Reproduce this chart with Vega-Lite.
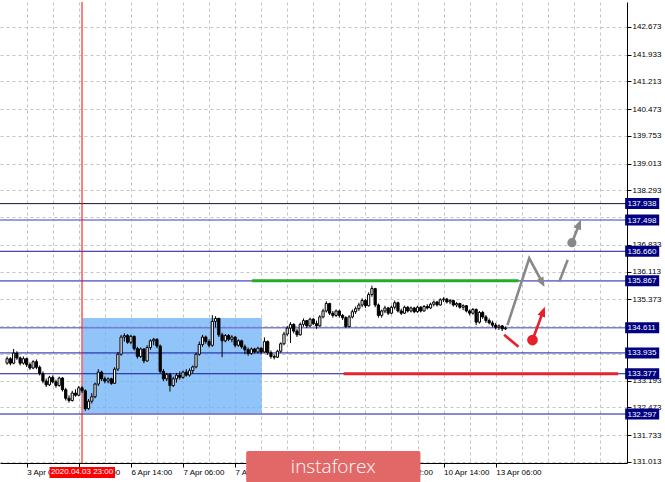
{
"$schema": "https://vega.github.io/schema/vega-lite/v6.json",
"width": 627, "height": 461,
"autosize": {"type": "none"},
"padding": {"left": 0, "top": 2, "right": 38, "bottom": 19},
"background": "white",
"config": {"view": {"stroke": null}, "font": "Liberation Sans", "axis": {"labelOverlap": false, "labelSeparation": 0}},
"datasets": {
"zones": [{"i": 33.2, "i2": 88.2, "top": 134.87, "bottom": 132.32}],
"levels": [
{"p": 137.938, "kind": "frame"}, {"p": 137.498, "kind": "key"}, {"p": 136.660, "kind": "level"},
{"p": 135.867, "kind": "key"}, {"p": 134.611, "kind": "key"}, {"p": 133.935, "kind": "level"},
{"p": 133.377, "kind": "level"}, {"p": 132.297, "kind": "level"}],
"cursor": [{"i": 33, "label": "2020.04.03 23:00"}],
"candles": [
{"i":10,"o":133.66,"c":133.78,"h":133.84,"l":133.62},
{"i":11,"o":133.78,"c":133.66,"h":133.82,"l":133.60},
{"i":12,"o":133.66,"c":133.93,"h":134.04,"l":133.63},
{"i":13,"o":133.93,"c":133.80,"h":133.98,"l":133.75},
{"i":14,"o":133.80,"c":133.66,"h":133.84,"l":133.60},
{"i":15,"o":133.66,"c":133.78,"h":133.84,"l":133.62},
{"i":16,"o":133.78,"c":133.62,"h":133.81,"l":133.56},
{"i":17,"o":133.62,"c":133.53,"h":133.68,"l":133.48},
{"i":18,"o":133.53,"c":133.70,"h":133.74,"l":133.50},
{"i":19,"o":133.70,"c":133.55,"h":133.76,"l":133.50},
{"i":20,"o":133.55,"c":133.38,"h":133.60,"l":133.33},
{"i":21,"o":133.38,"c":133.18,"h":133.44,"l":133.12},
{"i":22,"o":133.18,"c":133.08,"h":133.25,"l":133.02},
{"i":23,"o":133.08,"c":133.28,"h":133.32,"l":133.05},
{"i":24,"o":133.28,"c":133.16,"h":133.33,"l":133.12},
{"i":25,"o":133.16,"c":133.06,"h":133.22,"l":133.00},
{"i":26,"o":133.06,"c":133.26,"h":133.30,"l":133.03},
{"i":27,"o":133.26,"c":132.95,"h":133.29,"l":132.90},
{"i":28,"o":132.95,"c":132.72,"h":133.00,"l":132.66},
{"i":29,"o":132.72,"c":132.66,"h":132.80,"l":132.60},
{"i":30,"o":132.66,"c":132.86,"h":132.92,"l":132.63},
{"i":31,"o":132.86,"c":132.80,"h":132.96,"l":132.76},
{"i":32,"o":132.80,"c":133.00,"h":133.05,"l":132.77},
{"i":33,"o":133.00,"c":132.92,"h":133.04,"l":132.86},
{"i":34,"o":132.92,"c":132.44,"h":132.96,"l":132.38},
{"i":35,"o":132.44,"c":132.64,"h":132.70,"l":132.41},
{"i":36,"o":132.64,"c":132.76,"h":132.86,"l":132.58},
{"i":37,"o":132.76,"c":133.10,"h":133.14,"l":132.72},
{"i":38,"o":133.10,"c":133.42,"h":133.50,"l":133.05},
{"i":39,"o":133.42,"c":133.24,"h":133.46,"l":133.18},
{"i":40,"o":133.24,"c":133.18,"h":133.30,"l":133.12},
{"i":41,"o":133.18,"c":133.24,"h":133.28,"l":133.12},
{"i":42,"o":133.24,"c":133.12,"h":133.27,"l":133.08},
{"i":43,"o":133.12,"c":133.50,"h":133.55,"l":133.10},
{"i":44,"o":133.50,"c":133.90,"h":133.96,"l":133.45},
{"i":45,"o":133.90,"c":134.36,"h":134.42,"l":133.86},
{"i":46,"o":134.36,"c":134.40,"h":134.46,"l":134.24},
{"i":47,"o":134.40,"c":134.22,"h":134.44,"l":134.18},
{"i":48,"o":134.22,"c":134.38,"h":134.42,"l":134.17},
{"i":49,"o":134.38,"c":134.05,"h":134.40,"l":134.00},
{"i":50,"o":134.05,"c":133.84,"h":134.10,"l":133.78},
{"i":51,"o":133.84,"c":134.04,"h":134.08,"l":133.80},
{"i":52,"o":134.04,"c":133.72,"h":134.06,"l":133.66},
{"i":53,"o":133.72,"c":134.08,"h":134.14,"l":133.70},
{"i":54,"o":134.08,"c":134.26,"h":134.30,"l":134.02},
{"i":55,"o":134.26,"c":134.30,"h":134.34,"l":134.14},
{"i":56,"o":134.30,"c":134.12,"h":134.33,"l":134.06},
{"i":57,"o":134.12,"c":133.44,"h":134.16,"l":133.38},
{"i":58,"o":133.44,"c":133.24,"h":133.50,"l":133.18},
{"i":59,"o":133.24,"c":133.36,"h":133.40,"l":133.18},
{"i":60,"o":133.36,"c":133.06,"h":133.40,"l":132.90},
{"i":61,"o":133.06,"c":133.24,"h":133.30,"l":133.02},
{"i":62,"o":133.24,"c":133.34,"h":133.40,"l":133.14},
{"i":63,"o":133.34,"c":133.28,"h":133.44,"l":133.22},
{"i":64,"o":133.28,"c":133.42,"h":133.46,"l":133.24},
{"i":65,"o":133.42,"c":133.34,"h":133.50,"l":133.30},
{"i":66,"o":133.34,"c":133.46,"h":133.52,"l":133.30},
{"i":67,"o":133.46,"c":133.56,"h":133.60,"l":133.38},
{"i":68,"o":133.56,"c":133.90,"h":133.94,"l":133.52},
{"i":69,"o":133.90,"c":134.16,"h":134.24,"l":133.86},
{"i":70,"o":134.16,"c":134.36,"h":134.42,"l":134.10},
{"i":71,"o":134.36,"c":134.24,"h":134.40,"l":134.18},
{"i":72,"o":134.24,"c":134.14,"h":134.30,"l":134.08},
{"i":73,"o":134.14,"c":134.78,"h":134.95,"l":134.10},
{"i":74,"o":134.78,"c":134.86,"h":134.92,"l":134.62},
{"i":75,"o":134.86,"c":134.42,"h":134.88,"l":134.36},
{"i":76,"o":134.42,"c":134.26,"h":134.48,"l":133.82},
{"i":77,"o":134.26,"c":134.40,"h":134.44,"l":134.22},
{"i":78,"o":134.40,"c":134.30,"h":134.44,"l":134.25},
{"i":79,"o":134.30,"c":134.36,"h":134.41,"l":134.22},
{"i":80,"o":134.36,"c":134.14,"h":134.38,"l":134.08},
{"i":81,"o":134.14,"c":134.26,"h":134.30,"l":134.10},
{"i":82,"o":134.26,"c":134.10,"h":134.29,"l":134.05},
{"i":83,"o":134.10,"c":134.02,"h":134.16,"l":133.90},
{"i":84,"o":134.02,"c":133.92,"h":134.08,"l":133.86},
{"i":85,"o":133.92,"c":134.04,"h":134.08,"l":133.88},
{"i":86,"o":134.04,"c":133.96,"h":134.07,"l":133.92},
{"i":87,"o":133.96,"c":134.06,"h":134.10,"l":133.92},
{"i":88,"o":134.06,"c":133.96,"h":134.09,"l":133.90},
{"i":89,"o":133.96,"c":134.24,"h":134.35,"l":133.94},
{"i":90,"o":134.24,"c":133.94,"h":134.27,"l":133.88},
{"i":91,"o":133.94,"c":133.84,"h":134.00,"l":133.78},
{"i":92,"o":133.84,"c":133.82,"h":133.90,"l":133.76},
{"i":93,"o":133.82,"c":133.98,"h":134.02,"l":133.80},
{"i":94,"o":133.98,"c":134.18,"h":134.22,"l":133.94},
{"i":95,"o":134.18,"c":134.44,"h":134.50,"l":134.14},
{"i":96,"o":134.44,"c":134.60,"h":134.66,"l":134.38},
{"i":97,"o":134.60,"c":134.70,"h":134.76,"l":134.20},
{"i":98,"o":134.70,"c":134.52,"h":134.73,"l":134.46},
{"i":99,"o":134.52,"c":134.42,"h":134.58,"l":134.36},
{"i":100,"o":134.42,"c":134.70,"h":134.75,"l":134.40},
{"i":101,"o":134.70,"c":134.80,"h":134.86,"l":134.64},
{"i":102,"o":134.80,"c":134.66,"h":134.82,"l":134.60},
{"i":103,"o":134.66,"c":134.84,"h":134.88,"l":134.62},
{"i":104,"o":134.84,"c":134.72,"h":134.87,"l":134.68},
{"i":105,"o":134.72,"c":134.66,"h":134.80,"l":134.58},
{"i":106,"o":134.66,"c":134.90,"h":134.95,"l":134.64},
{"i":107,"o":134.90,"c":135.06,"h":135.12,"l":134.86},
{"i":108,"o":135.06,"c":135.26,"h":135.32,"l":135.02},
{"i":109,"o":135.26,"c":135.00,"h":135.28,"l":134.95},
{"i":110,"o":135.00,"c":134.94,"h":135.06,"l":134.88},
{"i":111,"o":134.94,"c":135.06,"h":135.10,"l":134.90},
{"i":112,"o":135.06,"c":134.94,"h":135.09,"l":134.88},
{"i":113,"o":134.94,"c":134.88,"h":134.98,"l":134.82},
{"i":114,"o":134.88,"c":134.64,"h":134.92,"l":134.60},
{"i":115,"o":134.64,"c":134.90,"h":134.95,"l":134.62},
{"i":116,"o":134.90,"c":135.04,"h":135.10,"l":134.86},
{"i":117,"o":135.04,"c":135.12,"h":135.18,"l":134.98},
{"i":118,"o":135.12,"c":135.22,"h":135.28,"l":135.06},
{"i":119,"o":135.22,"c":135.34,"h":135.40,"l":135.16},
{"i":120,"o":135.34,"c":135.20,"h":135.38,"l":135.14},
{"i":121,"o":135.20,"c":135.50,"h":135.56,"l":135.18},
{"i":122,"o":135.50,"c":135.66,"h":135.74,"l":135.44},
{"i":123,"o":135.66,"c":135.22,"h":135.68,"l":135.16},
{"i":124,"o":135.22,"c":134.94,"h":135.26,"l":134.88},
{"i":125,"o":134.94,"c":135.06,"h":135.10,"l":134.88},
{"i":126,"o":135.06,"c":135.14,"h":135.20,"l":135.00},
{"i":127,"o":135.14,"c":135.00,"h":135.17,"l":134.95},
{"i":128,"o":135.00,"c":135.16,"h":135.20,"l":134.97},
{"i":129,"o":135.16,"c":135.28,"h":135.34,"l":135.10},
{"i":130,"o":135.28,"c":135.06,"h":135.31,"l":135.02},
{"i":131,"o":135.06,"c":135.00,"h":135.12,"l":134.95},
{"i":132,"o":135.00,"c":135.16,"h":135.20,"l":134.98},
{"i":133,"o":135.16,"c":135.06,"h":135.19,"l":135.02},
{"i":134,"o":135.06,"c":135.14,"h":135.18,"l":135.02},
{"i":135,"o":135.14,"c":135.04,"h":135.17,"l":135.00},
{"i":136,"o":135.04,"c":135.16,"h":135.20,"l":135.01},
{"i":137,"o":135.16,"c":135.06,"h":135.19,"l":135.02},
{"i":138,"o":135.06,"c":135.18,"h":135.22,"l":135.04},
{"i":139,"o":135.18,"c":135.14,"h":135.24,"l":135.10},
{"i":140,"o":135.14,"c":135.24,"h":135.28,"l":135.12},
{"i":141,"o":135.24,"c":135.30,"h":135.34,"l":135.18},
{"i":142,"o":135.30,"c":135.22,"h":135.33,"l":135.18},
{"i":143,"o":135.22,"c":135.36,"h":135.40,"l":135.20},
{"i":144,"o":135.36,"c":135.38,"h":135.43,"l":135.30},
{"i":145,"o":135.38,"c":135.30,"h":135.41,"l":135.26},
{"i":146,"o":135.30,"c":135.34,"h":135.38,"l":135.24},
{"i":147,"o":135.34,"c":135.22,"h":135.36,"l":135.18},
{"i":148,"o":135.22,"c":135.26,"h":135.30,"l":135.16},
{"i":149,"o":135.26,"c":135.16,"h":135.28,"l":135.12},
{"i":150,"o":135.16,"c":135.20,"h":135.24,"l":135.08},
{"i":151,"o":135.20,"c":135.06,"h":135.22,"l":135.02},
{"i":152,"o":135.06,"c":135.00,"h":135.10,"l":134.94},
{"i":153,"o":135.00,"c":135.10,"h":135.14,"l":134.96},
{"i":154,"o":135.10,"c":134.76,"h":135.13,"l":134.68},
{"i":155,"o":134.76,"c":135.02,"h":135.06,"l":134.72},
{"i":156,"o":135.02,"c":134.90,"h":135.06,"l":134.85},
{"i":157,"o":134.90,"c":134.80,"h":134.95,"l":134.74},
{"i":158,"o":134.80,"c":134.74,"h":134.86,"l":134.70},
{"i":159,"o":134.74,"c":134.68,"h":134.80,"l":134.62},
{"i":160,"o":134.68,"c":134.62,"h":134.74,"l":134.56},
{"i":161,"o":134.62,"c":134.66,"h":134.70,"l":134.55},
{"i":162,"o":134.66,"c":134.58,"h":134.68,"l":134.52},
{"i":163,"o":134.58,"c":134.60,"h":134.64,"l":134.55}],
"targets": [{"name": "resistance", "i": 85.2, "i2": 167, "p": 135.867}, {"name": "support", "i": 113.3, "i2": 197.6, "p": 133.377}],
"paths": [
{"seg": "a", "k": 0, "i": 163.6, "p": 134.68, "scenario": "main"},
{"seg": "a", "k": 1, "i": 170.3, "p": 136.47, "scenario": "main"},
{"seg": "a", "k": 2, "i": 174.6, "p": 135.78, "scenario": "main"},
{"seg": "b", "k": 0, "i": 179.5, "p": 135.84, "scenario": "main"},
{"seg": "b", "k": 1, "i": 182.1, "p": 136.43, "scenario": "main"},
{"seg": "c", "k": 0, "i": 183.4, "p": 136.89, "scenario": "main"},
{"seg": "c", "k": 1, "i": 185.8, "p": 137.42, "scenario": "main"},
{"seg": "d", "k": 0, "i": 162.6, "p": 134.42, "scenario": "alt"},
{"seg": "d", "k": 1, "i": 167.0, "p": 134.10, "scenario": "alt"},
{"seg": "e", "k": 0, "i": 171.3, "p": 134.28, "scenario": "alt"},
{"seg": "e", "k": 1, "i": 174.7, "p": 135.08, "scenario": "alt"}],
"dots": [{"i": 183.4, "p": 136.89, "scenario": "main"}, {"i": 171.3, "p": 134.28, "scenario": "alt"}],
"heads": [{"seg": "a", "i": 175.0, "p": 135.70, "scenario": "main"}, {"seg": "c", "i": 186.2, "p": 137.51, "scenario": "main"}, {"seg": "e", "i": 175.1, "p": 135.17, "scenario": "alt"}],
"brand": [{"name": "instaforex"}]
},
"layer": [
{"data": {"name": "zones"},
 "mark": {"type": "rect", "fill": "#6cb0f6", "opacity": 0.75},
 "encoding": {
  "x": {"field": "i", "type": "quantitative",
   "scale": {"domain": [9.353, 198.78], "nice": false, "zero": false},
   "axis": {"orient": "bottom", "title": null, "tickCount": 200,
    "values": [16,24,32,40,48,56,64,72,80,88,96,104,112,120,128,136,144,152,160,168,176,184,192],
    "grid": true, "gridColor": "#c4c4c4", "gridDash": [3, 3], "gridWidth": 1,
    "domainColor": "#000000", "domainWidth": 1,
    "tickColor": "#000000", "tickSize": 4,
    "tickOpacity": {"condition": {"test": "datum.value % 16 === 0 && datum.value <= 160", "value": 1}, "value": 0},
    "labelExpr": "datum.value % 16 === 0 && datum.value <= 160 ? ['2 Apr 14:00','3 Apr 06:00','3 Apr 22:00','6 Apr 14:00','7 Apr 06:00','7 Apr 22:00','8 Apr 14:00','9 Apr 06:00','9 Apr 22:00','10 Apr 14:00','13 Apr 06:00'][datum.value / 16] : ''",
    "labelAlign": "left", "labelBaseline": "top", "labelPadding": 1,
    "labelFont": "Liberation Sans", "labelFontSize": 8, "labelColor": "#000000",
    "labelOverlap": false, "labelFlush": false, "labelBound": false}},
  "x2": {"field": "i2"},
  "y": {"field": "top", "type": "quantitative",
   "scale": {"domain": [130.984, 143.343], "nice": false, "zero": false},
   "axis": {"orient": "right", "title": null, "tickCount": 200,
    "values": [142.673,141.933,141.213,140.473,139.753,139.013,138.293,137.573,136.833,136.113,135.373,134.653,133.913,133.193,132.473,131.733,131.013],
    "grid": true, "gridColor": "#c4c4c4", "gridDash": [3, 3], "gridWidth": 1,
    "domainColor": "#000000", "domainWidth": 1,
    "tickColor": "#000000", "tickSize": 4,
    "labelExpr": "indexof([137.573, 134.653, 133.913], datum.value) >= 0 ? '' : format(datum.value, '.3f')",
    "labelPadding": 1, "labelFont": "Liberation Sans", "labelFontSize": 8, "labelColor": "#000000",
    "labelOverlap": false, "labelFlush": false, "labelBound": false}},
  "y2": {"field": "bottom"}}},
{"data": {"name": "levels"},
 "mark": {"type": "rule"},
 "encoding": {
  "y": {"field": "p", "type": "quantitative"},
  "stroke": {"condition": [{"test": "datum.kind === 'frame'", "value": "#14142e"}, {"test": "datum.kind === 'key'", "value": "#7c7cd0"}], "value": "#16169a"},
  "strokeWidth": {"condition": {"test": "datum.kind === 'key'", "value": 1.6}, "value": 1}}},
{"data": {"name": "cursor"},
 "mark": {"type": "rule", "stroke": "#ff0000", "strokeWidth": 1},
 "encoding": {"x": {"field": "i", "type": "quantitative"}}},
{"data": {"name": "candles"},
 "mark": {"type": "rule", "stroke": "#000000", "strokeWidth": 1},
 "encoding": {
  "x": {"field": "i", "type": "quantitative"},
  "y": {"field": "l", "type": "quantitative"},
  "y2": {"field": "h"}}},
{"data": {"name": "candles"},
 "mark": {"type": "bar", "width": 2.2, "stroke": "#000000", "strokeWidth": 1},
 "encoding": {
  "x": {"field": "i", "type": "quantitative"},
  "y": {"field": "o", "type": "quantitative"},
  "y2": {"field": "c"},
  "fill": {"condition": {"test": "datum.c >= datum.o", "value": "#ffffff"}, "value": "#000000"}}},
{"data": {"name": "targets"},
 "mark": {"type": "rule", "strokeWidth": 3},
 "encoding": {
  "x": {"field": "i", "type": "quantitative"},
  "x2": {"field": "i2"},
  "y": {"field": "p", "type": "quantitative"},
  "stroke": {"condition": {"test": "datum.name === 'resistance'", "value": "#25ad25"}, "value": "#e8232c"}}},
{"data": {"name": "paths"},
 "mark": {"type": "line", "strokeWidth": 2.6, "strokeCap": "butt"},
 "encoding": {
  "x": {"field": "i", "type": "quantitative"},
  "y": {"field": "p", "type": "quantitative"},
  "detail": {"field": "seg"},
  "order": {"field": "k"},
  "stroke": {"condition": {"test": "datum.scenario === 'main'", "value": "#888888"}, "value": "#e8202a"}}},
{"data": {"name": "dots"},
 "mark": {"type": "point", "shape": "circle", "filled": true, "opacity": 1},
 "encoding": {
  "x": {"field": "i", "type": "quantitative"},
  "y": {"field": "p", "type": "quantitative"},
  "size": {"condition": {"test": "datum.scenario === 'main'", "value": 85}, "value": 115},
  "fill": {"condition": {"test": "datum.scenario === 'main'", "value": "#888888"}, "value": "#e8202a"}}},
{"data": {"name": "heads"},
 "transform": [{"filter": "datum.seg === 'a'"}],
 "mark": {"type": "point", "shape": "M0,0L0.9,2.2L-0.9,2.2Z", "filled": true, "opacity": 1, "size": 81, "angle": 151.5, "fill": "#888888"},
 "encoding": {"x": {"field": "i", "type": "quantitative"}, "y": {"field": "p", "type": "quantitative"}}},
{"data": {"name": "heads"},
 "transform": [{"filter": "datum.seg === 'c'"}],
 "mark": {"type": "point", "shape": "M0,0L0.9,2.2L-0.9,2.2Z", "filled": true, "opacity": 1, "size": 81, "angle": 22.3, "fill": "#888888"},
 "encoding": {"x": {"field": "i", "type": "quantitative"}, "y": {"field": "p", "type": "quantitative"}}},
{"data": {"name": "heads"},
 "transform": [{"filter": "datum.seg === 'e'"}],
 "mark": {"type": "point", "shape": "M0,0L0.9,2.2L-0.9,2.2Z", "filled": true, "opacity": 1, "size": 81, "angle": 21, "fill": "#e8202a"},
 "encoding": {"x": {"field": "i", "type": "quantitative"}, "y": {"field": "p", "type": "quantitative"}}},
{"mark": {"type": "rule", "stroke": "#000000", "strokeWidth": 3},
 "encoding": {"x": {"datum": 198.72}, "y": {"datum": 137.97}, "y2": {"datum": 134.58}}},
{"data": {"name": "levels"},
 "mark": {"type": "rect", "fill": "#000080", "yOffset": -5.5, "y2Offset": 5.5},
 "encoding": {
  "x": {"datum": 199.75}, "x2": {"datum": 210.2},
  "y": {"field": "p", "type": "quantitative"}, "y2": {"field": "p"}}},
{"data": {"name": "levels"},
 "mark": {"type": "text", "align": "left", "baseline": "middle", "fill": "#ffffff", "font": "Liberation Sans", "fontSize": 8, "dy": 0.5},
 "encoding": {
  "x": {"datum": 200.45},
  "y": {"field": "p", "type": "quantitative"},
  "text": {"field": "p", "type": "quantitative", "format": ".3f"}}},
{"data": {"name": "cursor"},
 "mark": {"type": "rect", "fill": "#ff0000", "xOffset": -32.5, "x2Offset": 33},
 "encoding": {
  "x": {"field": "i", "type": "quantitative"}, "x2": {"field": "i"},
  "y": {"datum": 130.877}, "y2": {"datum": 130.585}}},
{"data": {"name": "cursor"},
 "mark": {"type": "text", "align": "center", "baseline": "middle", "fill": "#ffffff", "font": "Liberation Sans", "fontSize": 8},
 "encoding": {
  "x": {"field": "i", "type": "quantitative"},
  "y": {"datum": 130.73},
  "text": {"field": "label"}}},
{"data": {"name": "brand"},
 "mark": {"type": "rect", "fill": "#e26868", "cornerRadius": 2},
 "encoding": {"x": {"datum": 83.4}, "x2": {"datum": 136.9}, "y": {"datum": 131.306}, "y2": {"datum": 130.45}}},
{"data": {"name": "brand"},
 "mark": {"type": "text", "align": "center", "baseline": "middle", "fill": "#ffffff", "font": "Open Sans", "fontSize": 19, "fontWeight": 300},
 "encoding": {"x": {"datum": 110.15}, "y": {"datum": 130.89}, "text": {"field": "name"}}},
{"mark": {"type": "rule", "stroke": "#333333", "strokeWidth": 1},
 "encoding": {"y": {"datum": 143.33}}}
]
}
